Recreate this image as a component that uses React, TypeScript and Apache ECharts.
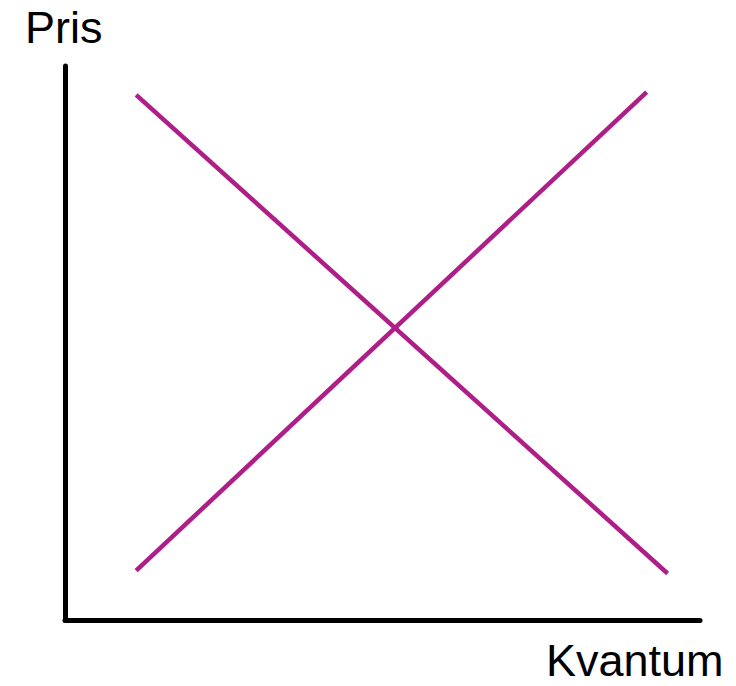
import React, { useEffect, useRef } from "react";
import * as echarts from "echarts";

const supplyX = [11.2, 91.6];
const supplyY = [8.9, 95.3];
const demandX = [11.2, 94.9];
const demandY = [94.8, 8.4];
const yLabel = "Pris";
const xLabel = "Kvantum";

const LINE_COLOR = "#AE1E86";
const FONT = "'Liberation Sans', Arial, sans-serif";

export default function App() {
  const ref = useRef<HTMLDivElement>(null);
  useEffect(() => {
    if (!ref.current) return;
    const chart = echarts.init(ref.current, undefined, { renderer: "svg" });
    const toPairs = (xs: number[], ys: number[]) => xs.map((x, i) => [x, ys[i]]);
    chart.setOption({
      animation: false,
      backgroundColor: "#ffffff",
      grid: { left: 65, right: 36, top: 66, bottom: 66 },
      xAxis: {
        type: "value",
        min: 0,
        max: 100,
        axisLine: { show: true, lineStyle: { color: "#000", width: 5 } },
        axisTick: { show: false },
        axisLabel: { show: false },
        splitLine: { show: false },
      },
      yAxis: {
        type: "value",
        min: 0,
        max: 100,
        axisLine: { show: true, lineStyle: { color: "#000", width: 5 } },
        axisTick: { show: false },
        axisLabel: { show: false },
        splitLine: { show: false },
      },
      series: [
        {
          name: "Tilbud",
          type: "line",
          data: toPairs(supplyX, supplyY),
          symbol: "none",
          lineStyle: { color: LINE_COLOR, width: 4.5, cap: "butt" },
        },
        {
          name: "Efterspørgsel",
          type: "line",
          data: toPairs(demandX, demandY),
          symbol: "none",
          lineStyle: { color: LINE_COLOR, width: 4.5, cap: "butt" },
        },
      ],
      graphic: [
        {
          type: "text",
          left: 25,
          top: 5,
          style: { text: yLabel, font: `45px ${FONT}`, fill: "#000" },
        },
        {
          type: "text",
          left: 546,
          top: 638,
          style: { text: xLabel, font: `45px ${FONT}`, fill: "#000" },
        },
      ],
    });
    return () => chart.dispose();
  }, []);
  return (
    <div
      ref={ref}
      style={{ position: "absolute", left: 0, top: 0, width: 736, height: 686 }}
    />
  );
}
